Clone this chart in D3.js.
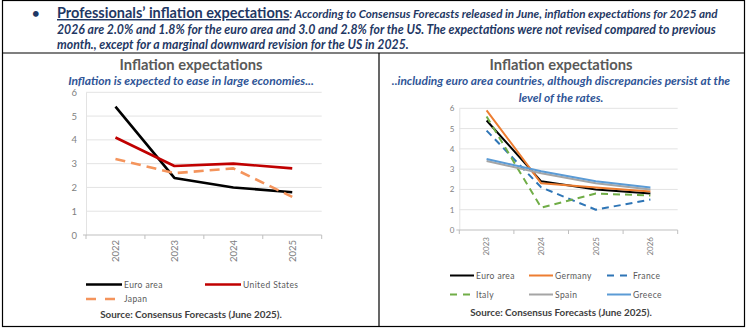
<!DOCTYPE html>
<html>
<head>
<meta charset="utf-8">
<script src="https://cdn.jsdelivr.net/npm/d3@7/dist/d3.min.js"></script>
<style>
  html, body { margin: 0; padding: 0; background: #fff; }
  svg { display: block; font-family: Lato, "Open Sans", sans-serif; }
</style>
</head>
<body>
<svg id="chart" width="747" height="334"></svg>
<script>
// ---- data -------------------------------------------------------------
const yTicks = [0, 1, 2, 3, 4, 5, 6];

// Panel 1: large economies
const yearsMajor = ["2022", "2023", "2024", "2025"];
const euroAreaMajor = [5.4, 2.4, 2.0, 1.8];
const unitedStates = [4.1, 2.9, 3.0, 2.8];
const japan = [3.2, 2.6, 2.8, 1.6];

// Panel 2: euro area countries
const yearsEuro = ["2023", "2024", "2025", "2026"];
const euroAreaEuro = [5.4, 2.4, 2.0, 1.8];
const germany = [5.9, 2.3, 2.1, 1.9];
const france = [4.9, 2.1, 1.0, 1.5];
const italy = [5.6, 1.1, 1.8, 1.7];
const spain = [3.4, 2.8, 2.3, 2.0];
const greece = [3.5, 2.9, 2.4, 2.1];

const headerLead = "Professionals\u2019 inflation expectations";
const headerLines = [
  ": According to Consensus Forecasts released in June, inflation expectations for 2025 and",
  "2026 are 2.0% and 1.8% for the euro area and 3.0 and 2.8% for the US. The expectations were not revised compared to previous",
  "month., except for a marginal downward revision for the US in 2025."
];
const chartTitle = "Inflation expectations";
const subtitleMajor = "Inflation is expected to ease in large economies...";
const subtitleEuro = ["..including euro area countries, although discrepancies persist at the", "level of the rates."];
const sourceText = "Source: Consensus Forecasts (June 2025).";

// ---- helpers ----------------------------------------------------------
const svg = d3.select("#chart");
svg.append("rect").attr("width", 747).attr("height", 334).attr("fill", "#fff");

// scale a text element's font sizes so that it spans the given width
function fitWidth(textSel, width) {
  const node = textSel.node();
  const w = node.getComputedTextLength();
  const k = width / w;
  const scaleSize = s => {
    const fs = parseFloat(s.attr("font-size"));
    if (!isNaN(fs)) s.attr("font-size", fs * k);
  };
  scaleSize(textSel);
  textSel.selectAll("tspan").each(function () { scaleSize(d3.select(this)); });
}

// ---- frame ------------------------------------------------------------
const frame = svg.append("g").attr("fill", "none").attr("stroke", "#000").attr("stroke-width", 1.2);
frame.append("rect").attr("x", 2.5).attr("y", 0.5).attr("width", 742).attr("height", 326);
frame.append("line").attr("x1", 2.5).attr("x2", 744.5).attr("y1", 53).attr("y2", 53);
frame.append("line").attr("x1", 379).attr("x2", 379).attr("y1", 53).attr("y2", 326.5);

// ---- header paragraph --------------------------------------------------
const navy = "#1f3864";
svg.append("text").attr("x", 32).attr("y", 18).attr("fill", navy)
  .attr("font-size", 13).attr("font-weight", 700).text("\u2022");

const h1 = svg.append("text").attr("x", 57).attr("y", 18).attr("fill", navy).attr("font-weight", 700);
h1.append("tspan").attr("font-size", 15).attr("text-decoration", "underline").text(headerLead);
h1.append("tspan").attr("font-size", 12).attr("font-style", "italic").text(headerLines[0]);
fitWidth(h1, 661);

const h2 = svg.append("text").attr("x", 57).attr("y", 34).attr("fill", navy)
  .attr("font-weight", 700).attr("font-style", "italic").attr("font-size", 11.5).text(headerLines[1]);
fitWidth(h2, 660);
const h2size = h2.attr("font-size");
svg.append("text").attr("x", 57).attr("y", 49).attr("fill", navy)
  .attr("font-weight", 700).attr("font-style", "italic").attr("font-size", h2size).text(headerLines[2]);

// ---- panel builder ----------------------------------------------------
function panel(cfg) {
  const g = svg.append("g");
  const x = d3.scaleBand().domain(cfg.years).range(cfg.xRange);
  const y = d3.scaleLinear().domain([0, 6]).range(cfg.yRange);

  // title and subtitle
  const t = g.append("text").attr("x", cfg.cx).attr("y", cfg.titleY).attr("text-anchor", "middle")
    .attr("fill", "#595959").attr("font-weight", 700).attr("font-size", 16).text(chartTitle);
  fitWidth(t, 143);
  let subSize = null;
  cfg.subtitle.forEach((s, i) => {
    const st = g.append("text").attr("x", cfg.cx).attr("y", cfg.subY + i * 17).attr("text-anchor", "middle")
      .attr("fill", "#2f5597").attr("font-weight", 700).attr("font-style", "italic").attr("font-size", 11).text(s);
    if (i === 0) { fitWidth(st, cfg.subW); subSize = st.attr("font-size"); }
    else st.attr("font-size", subSize);
  });

  // gridlines
  g.append("g").selectAll("line").data(yTicks.filter(v => v > 0)).join("line")
    .attr("x1", cfg.xRange[0]).attr("x2", cfg.xRange[1])
    .attr("y1", d => y(d)).attr("y2", d => y(d))
    .attr("stroke", "#e3e3e3").attr("stroke-width", 1);

  // y axis
  const yAxis = g.append("g").attr("transform", `translate(${cfg.xRange[0]},0)`)
    .call(d3.axisLeft(y).tickValues(yTicks).tickFormat(d3.format("d")).tickSize(0).tickPadding(cfg.yPad));
  yAxis.select(".domain").attr("stroke", "#e3e3e3");
  yAxis.selectAll("text").attr("fill", "#7f7f7f").attr("font-size", cfg.tickFont)
    .attr("font-family", "Lato, sans-serif");

  // x axis with boundary ticks
  const xAxisG = g.append("g").attr("transform", `translate(0,${cfg.yRange[0]})`);
  xAxisG.append("line").attr("x1", cfg.xRange[0] - 3).attr("x2", cfg.xRange[1])
    .attr("stroke", "#bfbfbf").attr("stroke-width", 1);
  const edges = cfg.years.map(d => x(d)).concat([cfg.xRange[1]]);
  xAxisG.selectAll("line.edge").data(edges).join("line").attr("class", "edge")
    .attr("x1", d => d).attr("x2", d => d).attr("y1", 0).attr("y2", 4)
    .attr("stroke", "#bfbfbf");
  xAxisG.selectAll("text").data(cfg.years).join("text")
    .attr("transform", d => `translate(${x(d) + x.bandwidth() / 2 + cfg.tickFont * 0.35},${cfg.xLabelGap}) rotate(-90)`)
    .attr("text-anchor", "end").attr("fill", "#7f7f7f").attr("font-size", cfg.tickFont).text(d => d);

  // series
  const line = d3.line().x((d, i) => x(cfg.years[i]) + x.bandwidth() / 2).y(d => y(d));
  g.append("g").selectAll("path").data(cfg.series).join("path")
    .attr("d", s => line(s.values)).attr("fill", "none")
    .attr("stroke", s => s.color).attr("stroke-width", cfg.lineW)
    .attr("stroke-dasharray", s => s.dash || null)
    .attr("stroke-linejoin", "round");

  // legend
  const lg = g.append("g").selectAll("g").data(cfg.series).join("g")
    .attr("transform", (s, i) => `translate(${cfg.legCols[i % cfg.legCols.length]},${cfg.legRows[Math.floor(i / cfg.legCols.length)]})`);
  lg.append("line").attr("x1", 0).attr("x2", cfg.legLen).attr("y1", 0).attr("y2", 0)
    .attr("stroke", s => s.color).attr("stroke-width", cfg.lineW)
    .attr("stroke-dasharray", s => s.legDash || null);
  lg.append("text").attr("x", cfg.legLen + 2).attr("y", 3.3).attr("fill", "#595959")
    .attr("font-size", cfg.legFont).attr("letter-spacing", 0.4).text(s => s.name);

  // source
  const src = g.append("text").attr("x", cfg.cx).attr("y", cfg.srcY).attr("text-anchor", "middle")
    .attr("fill", "#404040").attr("font-weight", 700).attr("font-size", 11).text(sourceText);
  fitWidth(src, 182);
}

panel({
  years: yearsMajor, xRange: [86, 321.7], yRange: [235, 92.3],
  cx: 191, titleY: 70, subY: 85, subW: 246, subtitle: [subtitleMajor],
  yPad: 9, tickFont: 9.5, xLabelGap: 5, lineW: 2.6,
  series: [
    { name: "Euro area", values: euroAreaMajor, color: "#000000" },
    { name: "United States", values: unitedStates, color: "#c00000" },
    { name: "Japan", values: japan, color: "#f4945c", dash: "10 6", legDash: "10 9" }
  ],
  legCols: [86, 205], legRows: [284.5, 299], legLen: 36, legFont: 8.5,
  srcY: 318
});

panel({
  years: yearsEuro, xRange: [459.3, 677.7], yRange: [230, 108.3],
  cx: 561, titleY: 70, subY: 85, subW: 339, subtitle: subtitleEuro,
  yPad: 5, tickFont: 8, xLabelGap: 7, lineW: 2,
  series: [
    { name: "Euro area", values: euroAreaEuro, color: "#000000" },
    { name: "Germany", values: germany, color: "#ed7d31" },
    { name: "France", values: france, color: "#2e75b6", dash: "7 5", legDash: "7 6" },
    { name: "Italy", values: italy, color: "#70ad47", dash: "7 5", legDash: "7 6" },
    { name: "Spain", values: spain, color: "#a5a5a5" },
    { name: "Greece", values: greece, color: "#5b9bd5" }
  ],
  legCols: [450, 529, 607], legRows: [275.5, 294.5], legLen: 24, legFont: 8.5,
  srcY: 316
});
</script>
</body>
</html>
